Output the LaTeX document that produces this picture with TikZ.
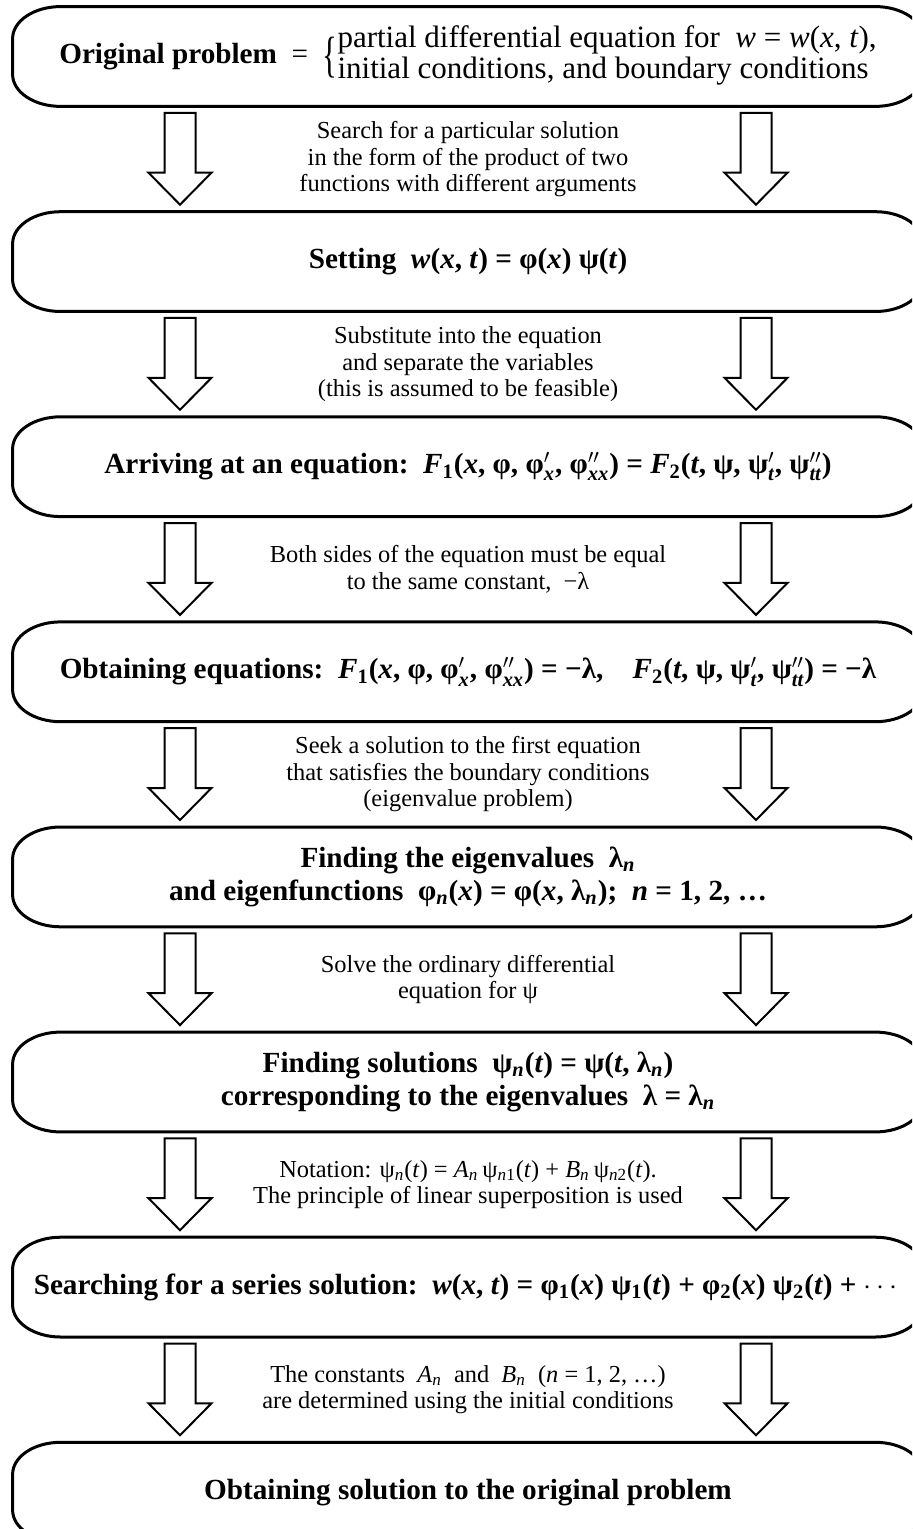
\documentclass[tikz,border=0pt]{standalone}
\usepackage{amsmath}
\usepackage{graphicx}
\usepackage{fontspec}
\setmainfont{Liberation Serif}
\usetikzlibrary{positioning,calc}

\newcommand{\va}[1]{\textit{#1}}
\newcommand{\lw}[1]{$_{\text{#1}}$}
\newcommand{\subn}{\lw{\itshape n}}
\newcommand{\dv}[3]{#1$^{#2}_{\text{\itshape #3}}$}

\tikzset{
  stage/.style={minimum width=455pt,minimum height=49.5pt,inner sep=0pt,align=center,
    font=\fontsize{14.6}{16.5}\selectfont\bfseries},
  note/.style={align=center,font=\fontsize{12.2}{13.25}\selectfont},
  boxline/.style={line width=1.5pt},
  blockarrow/.style={line width=1pt,fill=white,line join=miter},
}

\begin{document}
\begin{tikzpicture}[x=0.5pt,y=0.5pt,node distance=52.65pt]
\useasboundingbox (0,0) rectangle (912,-1529);
\clip (0,0) rectangle (912,-1529);
% the stages
\node[stage] (b1) at (468,-56.5) {Original problem\enspace{\mdseries =}\enspace
  \raisebox{-4pt}{\scalebox{1}[1.6]{\mdseries\fontsize{15.5}{15}\selectfont\{}}%
  \mbox{\mdseries\fontsize{15.5}{14.6}\selectfont\begin{tabular}{@{}l@{}}partial differential equation for\enspace \va{w} = \va{w}(\va{x}, \va{t}),\\
  initial conditions, and boundary conditions\end{tabular}}};
\node[stage,below=of b1] (b2) {Setting\enspace \va{w}(\va{x}, \va{t}) = φ(\va{x}) ψ(\va{t})};
\node[stage,below=of b2] (b3) {Arriving at an equation:\enspace \va{F}\lw{1}(\va{x}, φ, \dv{φ}{\prime}{x}, \dv{φ}{\prime\prime}{xx}) = \va{F}\lw{2}(\va{t}, ψ, \dv{ψ}{\prime}{t}, \dv{ψ}{\prime\prime}{tt})};
\node[stage,below=of b3] (b4) {Obtaining equations:\enspace \va{F}\lw{1}(\va{x}, φ, \dv{φ}{\prime}{x}, \dv{φ}{\prime\prime}{xx}) = −λ,\quad \va{F}\lw{2}(\va{t}, ψ, \dv{ψ}{\prime}{t}, \dv{ψ}{\prime\prime}{tt}) = −λ};
\node[stage,below=of b4] (b5) {Finding the eigenvalues\enspace λ\subn\\
  and eigenfunctions\enspace φ\subn(\va{x}) = φ(\va{x}, λ\subn);\enspace \va{n} = 1, 2, …};
\node[stage,below=of b5] (b6) {Finding solutions\enspace ψ\subn(\va{t}) = ψ(\va{t}, λ\subn)\\
  corresponding to the eigenvalues\enspace λ = λ\subn};
\node[stage,below=of b6] (b7) {Searching for a series solution:\enspace \va{w}(\va{x}, \va{t}) = φ\lw{1}(\va{x}) ψ\lw{1}(\va{t}) + φ\lw{2}(\va{x}) ψ\lw{2}(\va{t}) + $\cdots$};
\node[stage,below=of b7] (b8) {Obtaining solution to the original problem};
% outlines with flat corners
\foreach \i in {1,...,8}
  \draw[boxline] ([xshift=24pt]b\i.north west) -- ([xshift=-24pt]b\i.north east)
    arc[start angle=90,end angle=0,x radius=24pt,y radius=16pt] -- ([yshift=16pt]b\i.south east)
    arc[start angle=0,end angle=-90,x radius=24pt,y radius=16pt] -- ([xshift=24pt]b\i.south west)
    arc[start angle=270,end angle=180,x radius=24pt,y radius=16pt] -- ([yshift=-16pt]b\i.north west)
    arc[start angle=180,end angle=90,x radius=24pt,y radius=16pt] -- cycle;
% hollow arrows between stages
\foreach \i in {1,...,7}{
  \pgfmathtruncatemacro{\j}{\i+1}
  \foreach \dx in {-288,288}
    \draw[blockarrow] ([shift={(\dx-15.5,-6.5)}]b\i.south) -- ([shift={(\dx+15.5,-6.5)}]b\i.south)
      -- ([shift={(\dx+15.5,39)}]b\j.north) -- ([shift={(\dx+31.5,39)}]b\j.north)
      -- ([shift={(\dx,7)}]b\j.north) -- ([shift={(\dx-31.5,39)}]b\j.north)
      -- ([shift={(\dx-15.5,39)}]b\j.north) -- cycle;
}
% the notes
\node[note] (n1) at ($(b1.south)!0.5!(b2.north)$) {Search for a particular solution\\
  in the form of the product of two\\functions with different arguments};
\node[note] (n2) at ($(b2.south)!0.5!(b3.north)$) {Substitute into the equation\\
  and separate the variables\\(this is assumed to be feasible)};
\node[note] (n3) at ($(b3.south)!0.5!(b4.north)$) {Both sides of the equation must be equal\\
  to the same constant,\enspace −λ};
\node[note] (n4) at ($(b4.south)!0.5!(b5.north)$) {Seek a solution to the first equation\\
  that satisfies the boundary conditions\\(eigenvalue problem)};
\node[note] (n5) at ($(b5.south)!0.5!(b6.north)$) {Solve the ordinary differential\\equation for ψ};
\node[note] (n6) at ($(b6.south)!0.5!(b7.north)$) {Notation: ψ\subn(\va{t}) = \va{A}\subn\,ψ\lw{\itshape n\upshape 1}(\va{t}) + \va{B}\subn\,ψ\lw{\itshape n\upshape 2}(\va{t}).\\
  The principle of linear superposition is used};
\node[note] (n7) at ($(b7.south)!0.5!(b8.north)$) {The constants\enspace \va{A}\subn\enspace and\enspace \va{B}\subn\enspace (\va{n} = 1, 2, …)\\
  are determined using the initial conditions};
\end{tikzpicture}
\end{document}
